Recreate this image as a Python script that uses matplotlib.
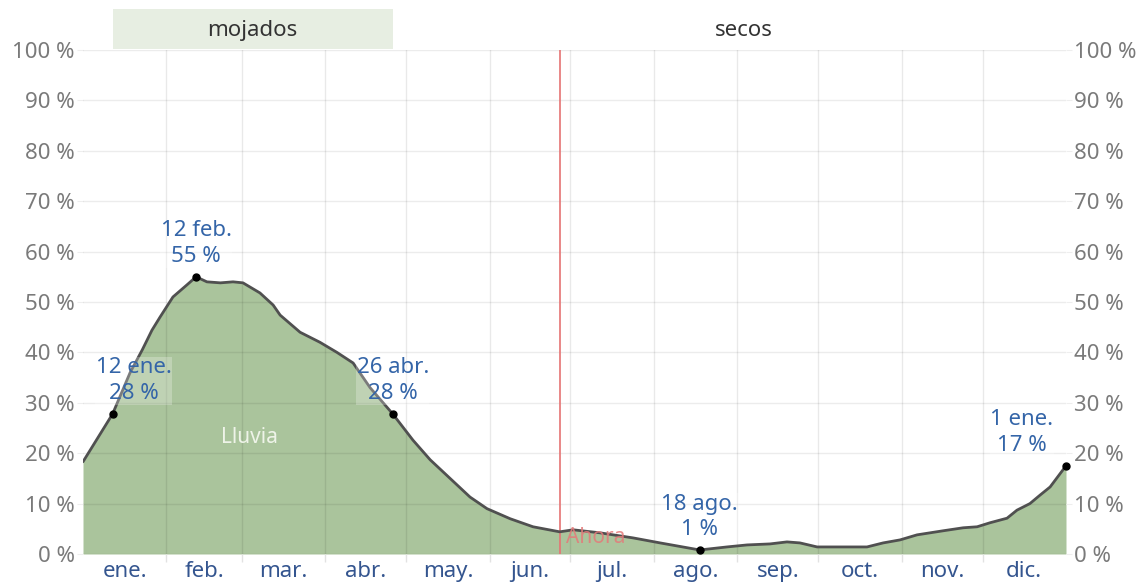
import matplotlib
matplotlib.use("Agg")
import matplotlib.pyplot as plt
import matplotlib.transforms as mtransforms
from matplotlib.patches import Rectangle

plt.rcParams['font.family'] = ['Noto Sans', 'DejaVu Sans']

# ---- data (day of year, % chance of rain) ----
curve_days = [0, 11, 17.5, 22, 25.6, 28.6, 33.4, 38.6, 42, 46, 51, 55.7, 59.4, 65.7,
              70.6, 73.2, 80.6, 88, 94.3, 100.3, 106.6, 115, 122.5, 128.9, 136.3,
              143.7, 150, 158.6, 167.1, 177, 182, 192, 204.2, 214.3, 229, 239.1,
              246.6, 255.1, 261.4, 266.2, 272.6, 282.2, 291.1, 297.1, 303.4, 309.7,
              314.5, 319.3, 326.8, 332, 336.8, 343.1, 346.8, 351.6, 355.4, 359.1, 365]
curve_values = [18.3, 27.8, 36, 40.5, 44.4, 47, 51, 53.4, 55, 54, 53.8, 54, 53.8, 51.8,
                49.4, 47.4, 44, 42, 40, 37.9, 33, 27.8, 22.6, 18.7, 15,
                11.3, 9, 7, 5.4, 4.4, 4.8, 4.2, 3.2, 2.2, 0.8, 1.4,
                1.8, 2.0, 2.4, 2.2, 1.4, 1.4, 1.4, 2.2, 2.8, 3.8,
                4.2, 4.6, 5.2, 5.4, 6.2, 7.1, 8.7, 10, 11.7, 13.3, 17.5]

month_labels = ["ene.", "feb.", "mar.", "abr.", "may.", "jun.",
                "jul.", "ago.", "sep.", "oct.", "nov.", "dic."]
month_lengths = [31, 28, 31, 30, 31, 30, 31, 31, 30, 31, 30, 31]

y_ticks = [0, 10, 20, 30, 40, 50, 60, 70, 80, 90, 100]
y_tick_labels = [f"{v} %" for v in y_ticks]

ann_days = [11, 42, 115, 229, 365]
ann_values = [27.8, 55, 27.8, 0.8, 17.5]
ann_labels = ["12 ene.\n28 %", "12 feb.\n55 %", "26 abr.\n28 %", "18 ago.\n1 %", "1 ene.\n17 %"]
ann_dx = [21, 0, 0, 0, -44]   # pixel shifts of the label boxes

season_names = ["mojados", "secos"]
wet_start, wet_end = 11, 115
now_day = 177

# ---- figure ----
fig = plt.figure(figsize=(11.44, 5.87), dpi=100)
ax = fig.add_axes([83/1144, 1 - 554/587, 983/1144, 504/587])
ax.set_xlim(0, 365)
ax.set_ylim(0, 100)

fill_col = "#aac49c"
ax.fill_between(curve_days, curve_values, 0, color=fill_col, lw=0, zorder=1)
ax.plot(curve_days, curve_values, color="#505050", lw=2.0, zorder=4,
        solid_joinstyle="round", solid_capstyle="round")

# grid lines over fill
month_starts = [sum(month_lengths[:i]) for i in range(12)]
for v in y_ticks:
    ax.axhline(v, color=(0, 0, 0, 0.075), lw=1, zorder=2)
for s in month_starts[1:]:
    ax.axvline(s, color=(0, 0, 0, 0.085), lw=1, zorder=2)

# now line
ax.axvline(now_day, color="#e57373", lw=1.2, zorder=3)
ax.text(now_day + 2.5, 3.2, "Ahora", color="#e47a7a", fontsize=15, va="center",
        ha="left", alpha=0.85, zorder=5)

ax.text(62, 23.2, "Lluvia", color="#eef3e8", fontsize=15, ha="center", va="center", zorder=5)

# ticks
centers = [month_starts[i] + month_lengths[i] / 2 for i in range(12)]
ax.set_xticks(centers)
ax.set_xticklabels(month_labels, color="#34558f", fontsize=16)
ax.set_xticks(month_starts[1:], minor=True)
ax.tick_params(axis="x", which="major", length=0, pad=5)
ax.tick_params(axis="x", which="minor", length=6, color="#e2e2e2", width=1)
ax.set_yticks(y_ticks)
ax.set_yticklabels(y_tick_labels, color="#7a7a7a", fontsize=16)
ax.tick_params(axis="y", length=4, color="#eeeeee", labelright=True, right=True, pad=2)
for sp in ax.spines.values():
    sp.set_visible(False)

# annotations
for d, v, lab, dx in zip(ann_days, ann_values, ann_labels, ann_dx):
    ax.plot([d], [v], "o", color="black", ms=5, zorder=6, clip_on=False)
    ax.annotate(lab, xy=(d, v), xytext=(dx, 33), textcoords="offset pixels",
                ha="center", va="center", fontsize=16, color="#3465a8",
                linespacing=1.3, zorder=7,
                bbox=dict(boxstyle="square,pad=0.02", fc="white", ec="none", alpha=0.25))

# season band
trans = mtransforms.blended_transform_factory(ax.transData, ax.transAxes)
ax.add_patch(Rectangle((wet_start, 1.002), wet_end - wet_start, 0.079, transform=trans,
                       facecolor="#e7eee2", edgecolor="none", clip_on=False, zorder=0))
ax.text((wet_start + wet_end) / 2, 1.039, season_names[0], transform=trans, ha="center",
        va="center", fontsize=16, color="#333333")
ax.text((wet_end + 365 + wet_start) / 2, 1.039, season_names[1], transform=trans, ha="center",
        va="center", fontsize=16, color="#333333")

fig.savefig("out.png", dpi=100)
